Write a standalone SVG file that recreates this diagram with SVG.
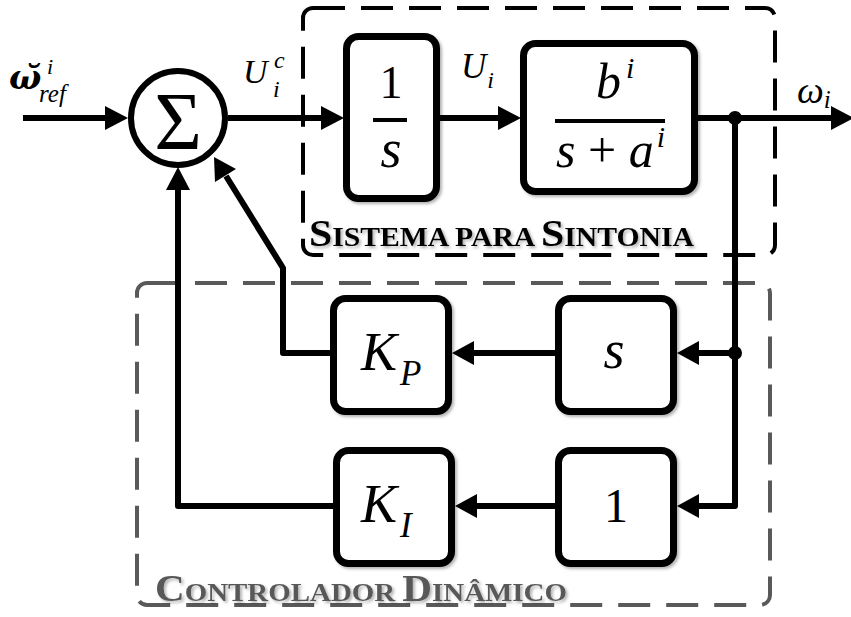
<svg xmlns="http://www.w3.org/2000/svg" width="851" height="617" viewBox="0 0 851 617">
<style>
.blk{fill:#fff;stroke:#000;stroke-width:7}
.ln{fill:none;stroke:#000;stroke-width:6;stroke-linejoin:round}
.ah{fill:#000}
.m{font-family:"Liberation Serif",serif;fill:#000}
.it{font-style:italic}
.cap{font-family:"Liberation Serif",serif;font-weight:bold}
</style>
<defs>
<filter id="sh" x="-10%" y="-10%" width="130%" height="130%">
<feDropShadow dx="2" dy="2" stdDeviation="1.5" flood-color="#000" flood-opacity="0.3"/>
</filter>
</defs>
<rect id="sistema-box" x="303" y="8" width="472" height="247" rx="10" fill="none" stroke="#000" stroke-width="4" stroke-dasharray="32 16"/>
<rect id="controlador-box" x="137" y="283" width="633" height="322" rx="10" fill="none" stroke="#595959" stroke-width="4" stroke-dasharray="32 16"/>
<text class="cap" x="309" y="246" fill="#000" filter="url(#sh)" textLength="385" lengthAdjust="spacingAndGlyphs"><tspan font-size="38">S</tspan><tspan font-size="27">ISTEMA PARA </tspan><tspan font-size="38">S</tspan><tspan font-size="27">INTONIA</tspan></text>
<text class="cap" x="155" y="601" fill="#595959" filter="url(#sh)" textLength="412" lengthAdjust="spacingAndGlyphs"><tspan font-size="37">C</tspan><tspan font-size="26">ONTROLADOR </tspan><tspan font-size="37">D</tspan><tspan font-size="26">INÂMICO</tspan></text>
<g id="connectors">
<line class="ln" x1="23" y1="118" x2="107" y2="118"/>
<polygon class="ah" points="128,118 105,106 105,130"/>
<line class="ln" x1="228" y1="118" x2="323" y2="118"/>
<polygon class="ah" points="344,118 321,106 321,130"/>
<line class="ln" x1="440" y1="118" x2="500" y2="118"/>
<polygon class="ah" points="521,118 498,106 498,130"/>
<line class="ln" x1="698" y1="118" x2="832" y2="118"/>
<polygon class="ah" points="854,118 831,106 831,130"/>
<polyline class="ln" points="735,118 735,506 697,506"/>
<circle cx="735" cy="118" r="7" fill="#000"/>
<circle cx="735" cy="353" r="7" fill="#000"/>
<line class="ln" x1="735" y1="353" x2="697" y2="353"/>
<polygon class="ah" points="677,353 699,341 699,365"/>
<polygon class="ah" points="677,506 699,494 699,518"/>
<line class="ln" x1="555" y1="353" x2="472" y2="353"/>
<polygon class="ah" points="452,353 474,341 474,365"/>
<line class="ln" x1="555" y1="506" x2="475" y2="506"/>
<polygon class="ah" points="455,506 477,494 477,518"/>
<polyline class="ln" points="333,353 283,353 283,268 226,176"/>
<polygon class="ah" points="214,157 236,169 215,182"/>
<polyline class="ln" points="336,506 178,506 178,188"/>
<polygon class="ah" points="178,167 166,190 190,190"/>
</g>
<g id="sum">
<circle cx="178" cy="118" r="47" fill="#fff" stroke="#000" stroke-width="6"/>
<text class="m" x="178" y="149" font-size="82" text-anchor="middle">Σ</text>
</g>
<g id="input-label">
<text class="m it" x="9" y="89" font-size="34"><tspan font-family="'DejaVu Serif',serif" font-weight="bold">ω̆</tspan><tspan font-size="22" x="47" y="74">i</tspan><tspan font-size="25" x="39" y="102">ref</tspan></text>
</g>
<g id="uc-label">
<text class="m it" x="243" y="83" font-size="34">U<tspan font-size="24" x="274" dy="-15">c</tspan><tspan font-size="24" x="273" dy="29">i</tspan></text>
</g>
<g id="block-integrator">
<rect class="blk" x="346.5" y="36.5" width="90" height="162" rx="12" filter="url(#sh)"/>
<text class="m" x="391" y="98" font-size="46" text-anchor="middle">1</text>
<line x1="373" y1="120" x2="407" y2="120" stroke="#000" stroke-width="4"/>
<text class="m it" x="391" y="167" font-size="54" text-anchor="middle">s</text>
</g>
<g id="ui-label">
<text class="m it" x="461" y="78" font-size="35">U<tspan font-size="24" dx="1" dy="10">i</tspan></text>
</g>
<g id="block-plant">
<rect class="blk" x="523.5" y="43.5" width="171" height="148" rx="12" filter="url(#sh)"/>
<text class="m it" x="596" y="98" font-size="50">b<tspan font-size="30" dx="5" dy="-20">i</tspan></text>
<line x1="555" y1="121" x2="665" y2="121" stroke="#000" stroke-width="4"/>
<text class="m" x="556" y="167" font-size="50"><tspan font-style="italic">s</tspan> + <tspan font-style="italic">a</tspan><tspan font-style="italic" font-size="30" dx="3" dy="-20">i</tspan></text>
</g>
<g id="output-label">
<text class="m it" x="797" y="103" font-size="38">ω<tspan font-size="25" dy="5">i</tspan></text>
</g>
<g id="block-kp">
<rect class="blk" x="333.5" y="298.5" width="115" height="113" rx="12" filter="url(#sh)"/>
<text class="m it" x="361" y="370" font-size="54">K<tspan font-size="35" dx="3" dy="15">P</tspan></text>
</g>
<g id="block-s">
<rect class="blk" x="558.5" y="298.5" width="115" height="113" rx="12" filter="url(#sh)"/>
<text class="m it" x="614" y="368" font-size="54" text-anchor="middle">s</text>
</g>
<g id="block-ki">
<rect class="blk" x="336.5" y="450.5" width="115" height="113" rx="12" filter="url(#sh)"/>
<text class="m it" x="361" y="522" font-size="54">K<tspan font-size="35" dx="3" dy="15">I</tspan></text>
</g>
<g id="block-one">
<rect class="blk" x="558.5" y="450.5" width="115" height="113" rx="12" filter="url(#sh)"/>
<text class="m" x="616" y="522" font-size="48" text-anchor="middle">1</text>
</g>
</svg>
